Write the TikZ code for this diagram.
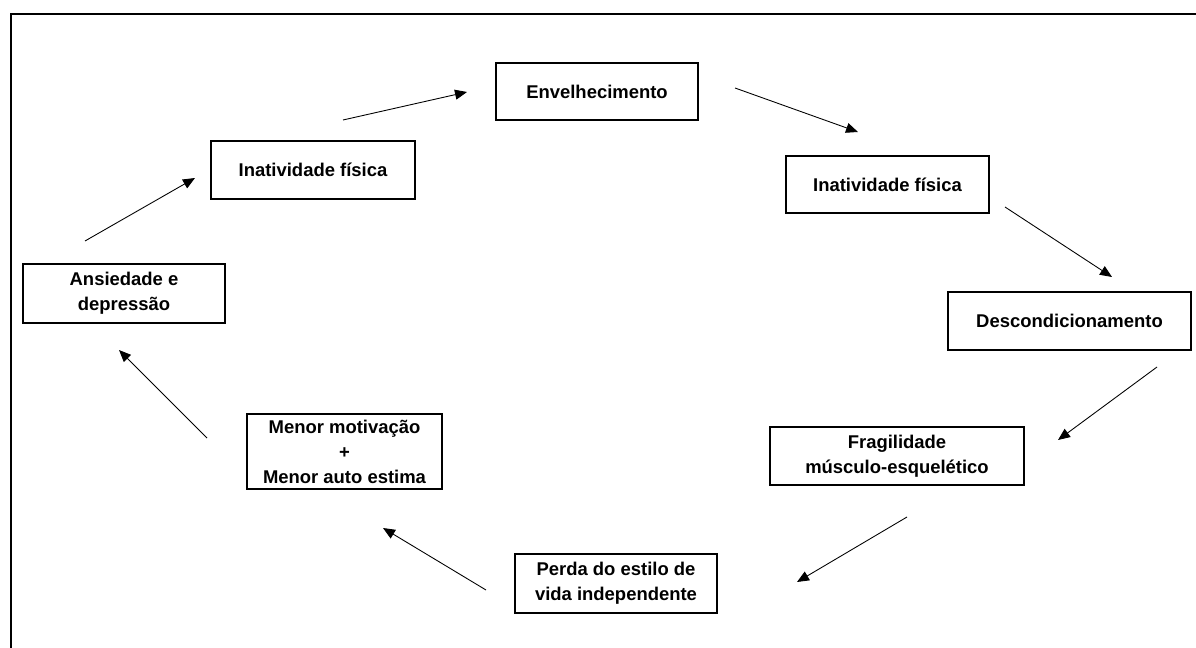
\documentclass[tikz,border=0pt]{standalone}
\usepackage{fontspec}
\setmainfont{Liberation Sans}
\usetikzlibrary{arrows.meta}
\tikzstyle{box} = [draw,line width=0.7pt,inner sep=0pt,align=center,font=\bfseries\fontsize{10.5}{14.2}\selectfont]
\tikzstyle{arrow} = [line width=0.5pt,-{Triangle[length=2.4mm,width=2mm]}]

\begin{document}
\begin{tikzpicture}[x=0.02cm,y=-0.02cm]
  \useasboundingbox (0,0) rectangle (1196,648);
  \draw[line width=1.3pt] (1196,14) -- (11,14) -- (11,648);
  % boxes
  \node[box,minimum width=4.04cm,minimum height=1.14cm] (envel) at (597,91.5) {Envelhecimento};
  \node[box,minimum width=4.06cm,minimum height=1.14cm] (inatR) at (887.5,184.5) {Inatividade física};
  \node[box,minimum width=4.86cm,minimum height=1.16cm] (descond) at (1069.5,321) {Descondicionamento};
  \node[box,minimum width=5.08cm,minimum height=1.16cm] (frag) at (897,456) {Fragilidade\\músculo-esquelético};
  \node[box,minimum width=4.04cm,minimum height=1.18cm] (perda) at (616,583.5) {Perda do estilo de\\vida independente};
  \node[box,minimum width=3.90cm,minimum height=1.50cm] (menor) at (344.5,451.5) {Menor motivação\\+\\Menor auto estima};
  \node[box,minimum width=4.04cm,minimum height=1.18cm] (ansied) at (124,293.5) {Ansiedade e\\depressão};
  \node[box,minimum width=4.08cm,minimum height=1.16cm] (inatL) at (313,170) {Inatividade física};
  % arrow ends
  \coordinate (a1) at (343,120);  \coordinate (b1) at (467,92);
  \coordinate (a2) at (735,88);   \coordinate (b2) at (858,132);
  \coordinate (a3) at (1005,207); \coordinate (b3) at (1112,277);
  \coordinate (a4) at (1157,367); \coordinate (b4) at (1058,440);
  \coordinate (a5) at (907,517);  \coordinate (b5) at (797,582);
  \coordinate (a6) at (486,590);  \coordinate (b6) at (383,528);
  \coordinate (a7) at (207,438);  \coordinate (b7) at (119,350);
  \coordinate (a8) at (85,241);   \coordinate (b8) at (195,178);
  \foreach \i in {1,...,8}
    \draw[arrow] (a\i) -- (b\i);
\end{tikzpicture}
\end{document}
